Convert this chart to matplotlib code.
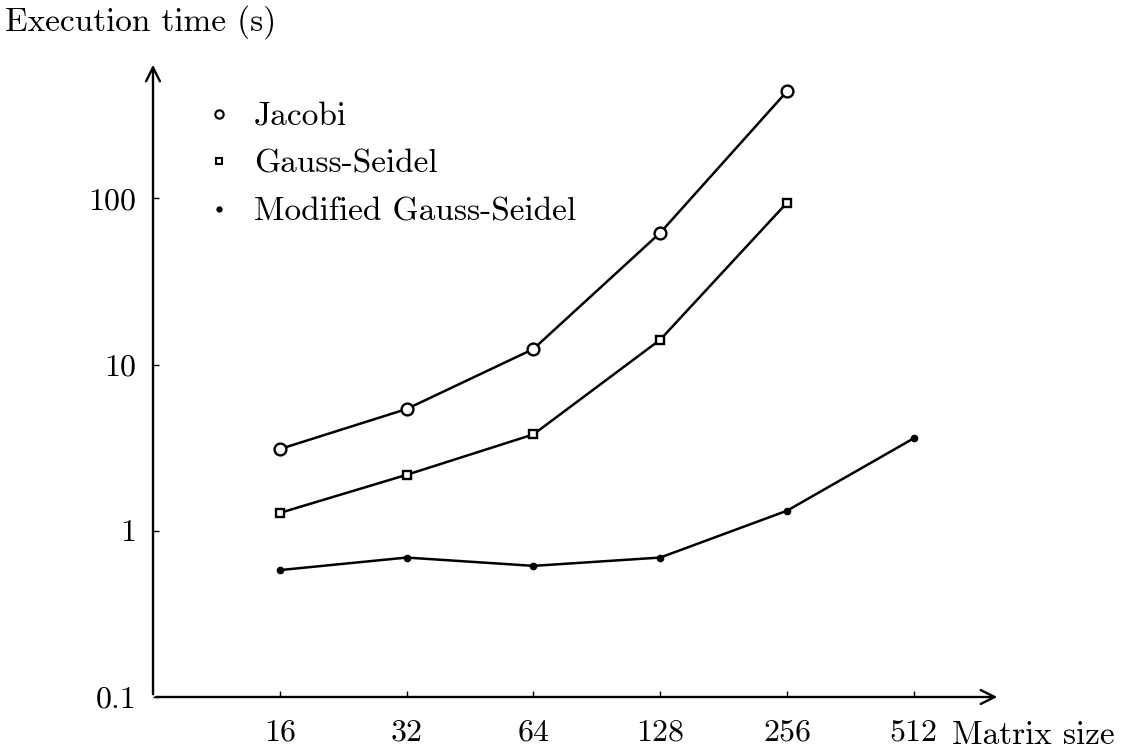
import matplotlib.pyplot as plt
import numpy as np
from matplotlib.lines import Line2D

plt.rcParams['font.family'] = ['cmr10', 'DejaVu Serif']
plt.rcParams['axes.formatter.use_mathtext'] = True

sizes = ['16', '32', '64', '128', '256', '512']
jacobi = [3.1, 5.4, 12.4, 62, 440]
gauss_seidel = [1.28, 2.17, 3.8, 14.1, 94]
mod_gauss_seidel = [0.58, 0.69, 0.615, 0.69, 1.32, 3.6]
yticks = [0.1, 1, 10, 100]
ytick_labels = ['0.1', '1', '10', '100']

fig = plt.figure(figsize=(11.28, 7.52), dpi=100)
ax = fig.add_axes([153/1128, 55/752, 847/1128, 635/752])
ax.set_yscale('log')
ax.set_xlim(-1, 5.68)
ax.set_ylim(0.1, 10**2.82)

x = np.arange(len(sizes))
ax.plot(x[:5], jacobi, 'k-', lw=1.8, marker='o', ms=8.5, mfc='white', mew=1.7)
ax.plot(x[:5], gauss_seidel, 'k-', lw=1.8, marker='s', ms=6, mfc='white', mew=1.7)
ax.plot(x, mod_gauss_seidel, 'k-', lw=1.8, marker='o', ms=4.5)

for s in ax.spines.values():
    s.set_visible(False)
# axes drawn as arrows
ax.annotate('', xy=(1.0, 0), xytext=(0, 0), xycoords='axes fraction',
            arrowprops=dict(arrowstyle='->', lw=1.7, color='k', mutation_scale=25))
ax.annotate('', xy=(0, 1.0), xytext=(0, 0), xycoords='axes fraction',
            arrowprops=dict(arrowstyle='->', lw=1.7, color='k', mutation_scale=25))

ax.set_xticks(x)
ax.set_xticklabels(sizes)
ax.set_yticks(yticks)
ax.set_yticklabels(ytick_labels)
ax.minorticks_off()
ax.tick_params(direction='in', length=4, width=1, labelsize=23, pad=16)
ax.tick_params(axis='y', pad=12)

fig.text(5/1128, 1 - 22/752, 'Execution time (s)', fontsize=24, va='center', ha='left')
fig.text(952/1128, 1 - 735/752, 'Matrix size', fontsize=24, va='center', ha='left')

handles = [
    Line2D([], [], ls='none', marker='o', ms=6, mfc='white', mec='k', mew=1.5),
    Line2D([], [], ls='none', marker='s', ms=5, mfc='white', mec='k', mew=1.5),
    Line2D([], [], ls='none', marker='o', ms=3.5, color='k'),
]
ax.legend(handles, ['Jacobi', 'Gauss-Seidel', 'Modified Gauss-Seidel'],
          loc='upper left', bbox_to_anchor=(209/1128, 1 - 102/752),
          bbox_transform=fig.transFigure, frameon=False, fontsize=24,
          borderpad=0, borderaxespad=0,
          handlelength=0.6, handletextpad=0.75, labelspacing=0.55)

fig.savefig('out.png', dpi=100, facecolor='white')
